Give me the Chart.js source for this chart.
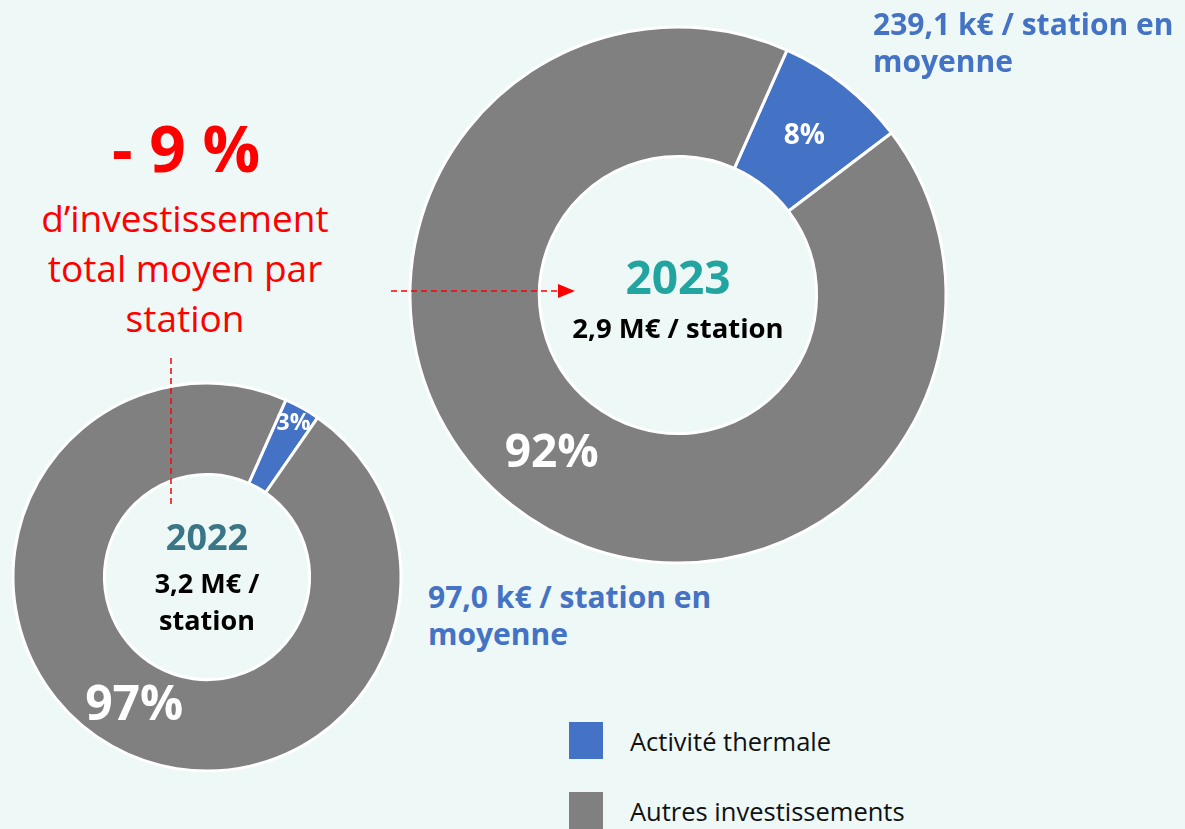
<html>
<head>
  <meta charset="UTF-8">
  <script src="https://cdn.jsdelivr.net/npm/chart.js"></script>
</head>
<style>
  body { margin: 0; background: #eef8f6; font-family: 'Open Sans', sans-serif; }
  #page { position: relative; width: 1185px; height: 829px; overflow: hidden; }
  .box { position: absolute; }
  .note { position: absolute; color: #4472c4; font-weight: bold; font-size: 30px; line-height: 37px; white-space: nowrap; }
  .red { position: absolute; color: #ff0000; text-align: center; white-space: nowrap; }
  .leg { position: absolute; left: 569px; height: 37px; display: flex; align-items: center; font-size: 25.5px; color: #111; white-space: nowrap; }
  .leg span { display: inline-block; width: 34px; height: 37px; margin-right: 27px; }
</style>
<body>
<div id="page">
  <div class="box" style="left:7px;top:377px;width:400px;height:400px"><canvas id="c2022"></canvas></div>
  <div class="box" style="left:398px;top:15px;width:560px;height:560px"><canvas id="c2023"></canvas></div>

  <div class="red" style="left:0;top:108px;width:372px;font-size:64px;font-weight:bold;line-height:80px">- 9 %</div>
  <div class="red" style="left:0;top:193px;width:370px;font-size:37px;line-height:50px">d’investissement<br>total moyen par<br>station</div>

  <div class="note" id="note2023" style="left:873px;top:5px"></div>
  <div class="note" id="note2022" style="left:428px;top:578px"></div>

  <div id="legend"></div>

  <svg width="1185" height="829" style="position:absolute;left:0;top:0;pointer-events:none">
    <line x1="391" y1="291" x2="560" y2="291" stroke="#ff0000" stroke-width="1.5" stroke-dasharray="6,4"/>
    <polygon points="558,284 575,291 558,298" fill="#ff0000"/>
    <line x1="171" y1="358" x2="171" y2="508" stroke="#ff0000" stroke-width="1.5" stroke-dasharray="6,4"/>
  </svg>
</div>

<script>
// data
const categories = ['Activité thermale', 'Autres investissements'];
const colors = ['#4472c4', '#808080'];
const share2022 = [3, 97];
const share2023 = [8, 92];
const years = ['2022', '2023'];
const totalPerStation = ['3,2 M€ / station', '2,9 M€ / station'];
const thermalPerStation = ['97,0 k€ / station en', '239,1 k€ / station en'];

document.getElementById('note2022').innerHTML = thermalPerStation[0] + '<br>moyenne';
document.getElementById('note2023').innerHTML = thermalPerStation[1] + '<br>moyenne';

const legend = document.getElementById('legend');
categories.forEach((c, i) => {
  const d = document.createElement('div');
  d.className = 'leg';
  d.style.top = (722 + i * 70) + 'px';
  d.innerHTML = '<span style="background:' + colors[i] + '"></span>' + c;
  legend.appendChild(d);
});

// percentage labels on the slices
const sliceLabels = {
  id: 'sliceLabels',
  afterDatasetsDraw(chart, args, opts) {
    const ctx = chart.ctx;
    const meta = chart.getDatasetMeta(0);
    const values = chart.data.datasets[0].data;
    meta.data.forEach((arc, i) => {
      const p = arc.getProps(['startAngle', 'endAngle', 'innerRadius', 'outerRadius', 'x', 'y'], true);
      const mid = (p.startAngle + p.endAngle) / 2;
      const r = (p.innerRadius + p.outerRadius) / 2 + (opts.shift[i] || 0);
      ctx.save();
      ctx.font = 'bold ' + opts.sizes[i] + "px 'Open Sans'";
      ctx.fillStyle = '#ffffff';
      ctx.textAlign = 'center';
      ctx.textBaseline = 'middle';
      ctx.fillText(values[i] + '%', p.x + Math.cos(mid) * r, p.y + Math.sin(mid) * r);
      ctx.restore();
    });
  }
};

// text in the hole
const centerText = {
  id: 'centerText',
  afterDraw(chart, args, opts) {
    const ctx = chart.ctx;
    const arc = chart.getDatasetMeta(0).data[0];
    ctx.save();
    ctx.textAlign = 'center';
    ctx.textBaseline = 'middle';
    opts.lines.forEach(l => {
      ctx.font = 'bold ' + l.size + "px 'Open Sans'";
      ctx.fillStyle = l.color;
      ctx.fillText(l.text, arc.x, arc.y + l.dy);
    });
    ctx.restore();
  }
};

function makeDoughnut(id, values, radius, cutout, labelOpts, lines) {
  new Chart(document.getElementById(id), {
    type: 'doughnut',
    data: {
      labels: categories,
      datasets: [{ data: values, backgroundColor: colors, borderColor: '#ffffff', borderWidth: 3 }]
    },
    options: {
      responsive: true,
      maintainAspectRatio: false,
      animation: false,
      rotation: 24,
      radius: radius,
      cutout: cutout,
      plugins: {
        legend: { display: false },
        tooltip: { enabled: false },
        sliceLabels: labelOpts,
        centerText: { lines: lines }
      }
    },
    plugins: [sliceLabels, centerText]
  });
}

makeDoughnut('c2023', share2023, 268, 144, { sizes: [28, 46], shift: [0, 0] }, [
  { text: years[1], size: 46, color: '#22a5a0', dy: -14 },
  { text: totalPerStation[1], size: 27.5, color: '#000000', dy: 35 }
]);

makeDoughnut('c2022', share2022, 194, 105, { sizes: [23, 48], shift: [28, 0] }, [
  { text: years[0], size: 36, color: '#3a7686', dy: -37 },
  { text: totalPerStation[0].replace(' station', ''), size: 27, color: '#000000', dy: 8 },
  { text: 'station', size: 27, color: '#000000', dy: 45 }
]);
</script>
</body>
</html>
